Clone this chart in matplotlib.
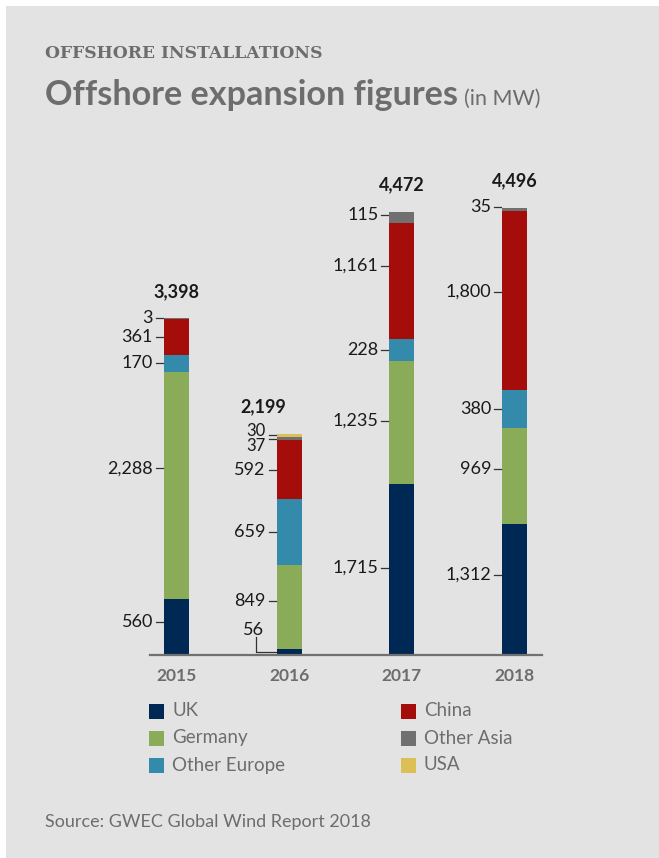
import matplotlib.pyplot as plt
import matplotlib
import numpy as np

matplotlib.rcParams['font.family'] = ['Lato', 'DejaVu Sans']

# data (MW)
years = ['2015', '2016', '2017', '2018']
series = ['UK', 'Germany', 'Other Europe', 'China', 'Other Asia', 'USA']
uk = [560, 56, 1715, 1312]
germany = [2288, 849, 1235, 969]
other_europe = [170, 659, 228, 380]
china = [361, 592, 1161, 1800]
other_asia = [3, 37, 115, 35]
usa = [0, 30, 0, 0]
totals = [3398, 2199, 4472, 4496]

values = [uk, germany, other_europe, china, other_asia, usa]
colors = ['#002855', '#8aab58', '#348aab', '#a50d0b', '#707070', '#dcbf55']

bg = '#e2e3e2'
grey_txt = '#6d6d6d'
num_txt = '#1a1a1a'

W, H = 659, 858
fig = plt.figure(figsize=(W / 100, H / 100), dpi=100)
fig.patch.set_facecolor('white')
# grey panel
fig.add_artist(plt.Rectangle((6 / W, -0.01), 1.1, 1.01 - 6 / H, transform=fig.transFigure,
                             facecolor=bg, edgecolor='none', zorder=0))

# axes laid out in pixels
spacing = 112.67           # px between bar centres
ppm = 0.0995               # px per MW
x0_px, x1_px = 150, 542
base_px = 655
ymax = 4800
left = -(176.5 - x0_px) / spacing
right = left + (x1_px - x0_px) / spacing
ax = fig.add_axes([x0_px / W, (H - base_px) / H, (x1_px - x0_px) / W, ymax * ppm / H])
ax.set_facecolor('none')
ax.set_xlim(left, right)
ax.set_ylim(0, ymax)
for s in ['top', 'left', 'right']:
    ax.spines[s].set_visible(False)
ax.spines['bottom'].set_color('#707070')
ax.spines['bottom'].set_linewidth(1.6)
ax.set_xticks([])
ax.set_yticks([])

x = np.arange(len(years))
bw = 25 / spacing
px = 1 / spacing   # one pixel in x data units
py = 1 / ppm       # one pixel in MW

bottom = np.zeros(len(years))
for vals, c in zip(values, colors):
    ax.bar(x, vals, bw, bottom=bottom, color=c, edgecolor='none', zorder=2)
    bottom += np.array(vals)

# label nudges in px (negative = up), keyed by (year index, series index)
text_nudge = {(0, 0): -5, (0, 1): -17, (0, 4): -3,
              (1, 1): -6, (1, 4): 6, (1, 5): -6,
              (2, 0): -2, (2, 1): -2, (2, 3): -15, (2, 4): -3,
              (3, 0): -15, (3, 1): -7, (3, 3): -9, (3, 4): -2}
fs_num = 13

for i in range(len(years)):
    b = 0
    bl = x[i] - bw / 2
    for j, vals in enumerate(values):
        v = vals[i]
        if v == 0:
            continue
        mid = b + v / 2
        b += v
        if (i, j) == (1, 0):
            # small UK value in 2016 with an elbow leader
            ly = mid + 22 * py
            ax.plot([bl - 21 * px, bl - 21 * px, bl - 1 * px],
                    [ly - 7 * py, mid, mid], color='#333333', lw=0.9, zorder=3)
            ax.text(bl - 13 * px, ly, f'{v:,}', ha='right', va='center',
                    fontsize=fs_num, color=num_txt)
            continue
        if (i, j) in [(1, 4), (1, 5)]:
            # stacked tiny labels: dash at segment, text shifted
            ax.plot([bl - 8 * px, bl - 1 * px], [mid, mid], color='#333333', lw=0.9, zorder=3)
            ax.text(bl - 11 * px, mid - text_nudge[(i, j)] * py, f'{v:,}', ha='right',
                    va='center_baseline', fontsize=12, color=num_txt, linespacing=0.8)
            continue
        ly = mid - text_nudge.get((i, j), 0) * py
        if j == 4 and i == 0:
            ly = b
        ax.plot([bl - 8 * px, bl - 1 * px], [ly, ly], color='#333333', lw=0.9, zorder=3)
        ax.text(bl - 11 * px, ly, f'{v:,}', ha='right', va='center',
                fontsize=fs_num, color=num_txt)

# totals above bars
tot_shift = [0, -26, 0, 0]
for i, t in enumerate(totals):
    top = sum(v[i] for v in values)
    ax.text(x[i] + tot_shift[i] * px, top + 27 * py, f'{t:,}', ha='center', va='center',
            fontsize=13, fontweight='bold', color=num_txt)

# year labels
for i, yr in enumerate(years):
    ax.text(x[i], -21 * py, yr, ha='center', va='center', fontsize=12.5,
            fontweight='bold', color=grey_txt)

# headings
fig.text(45 / W, 1 - 53 / H, 'OFFSHORE INSTALLATIONS', family='DejaVu Serif',
         fontweight='bold', fontsize=12.3, color=grey_txt, va='center', ha='left')
t = fig.text(45 / W, 1 - 105 / H, 'Offshore expansion figures', fontweight='bold',
             fontsize=24.6, color=grey_txt, va='baseline', ha='left')
fig.text(464 / W, 1 - 105 / H, '(in MW)', fontsize=15.5, color=grey_txt,
         va='baseline', ha='left')

# legend (manual grid)
leg_pos = [(149, 711), (149, 738), (149, 765), (401, 711), (401, 738), (401, 765)]
for (lx, ly), name, c in zip(leg_pos, series, colors):
    fig.add_artist(plt.Rectangle((lx / W, 1 - (ly + 7.5) / H), 15 / W, 15 / H,
                                 transform=fig.transFigure, facecolor=c, edgecolor='none'))
    fig.text((lx + 23) / W, 1 - ly / H, name, fontsize=13.5, color=grey_txt,
             va='center', ha='left')

fig.text(45 / W, 1 - 822 / H, 'Source: GWEC Global Wind Report 2018', fontsize=13,
         color=grey_txt, va='center', ha='left')

plt.savefig('out.png', dpi=100, facecolor='white')
plt.close()
